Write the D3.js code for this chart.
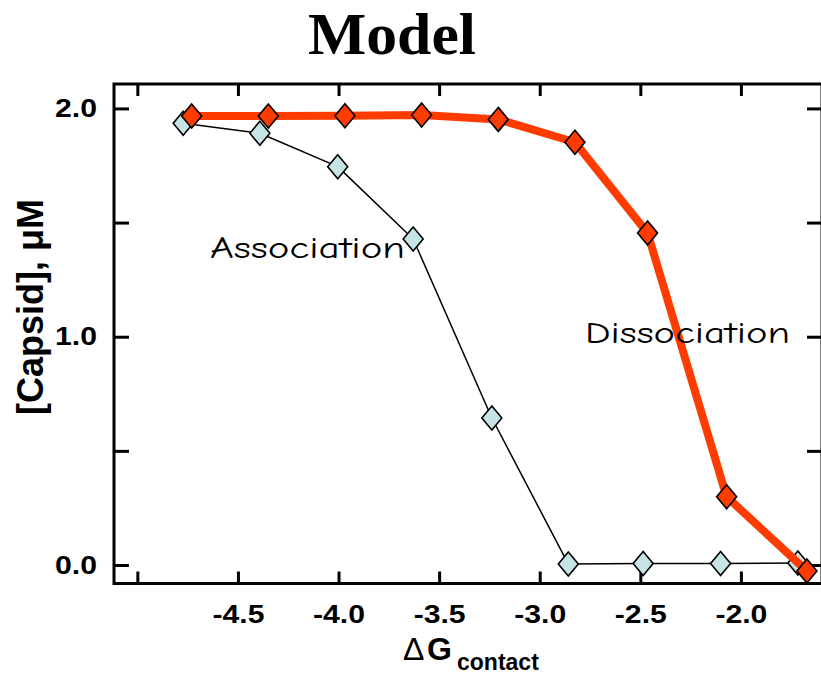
<!DOCTYPE html>
<html>
<head>
<meta charset="utf-8">
<script src="https://cdn.jsdelivr.net/npm/d3@7"></script>
<style>
  html, body { margin: 0; padding: 0; background: #fff; }
  svg { display: block; }
</style>
</head>
<body>
<script>
// Capsid concentration vs. contact free energy (model curves)
const dissocX = [-4.730, -4.349, -3.968, -3.587, -3.206, -2.825, -2.464, -2.071, -1.672];
const dissocY = [1.967, 1.967, 1.968, 1.971, 1.952, 1.852, 1.454, 0.299, -0.026];
const assocX  = [-4.772, -4.391, -4.004, -3.629, -3.238, -2.858, -2.486, -2.101, -1.717];
const assocY  = [1.935, 1.891, 1.745, 1.428, 0.644, 0.004, 0.007, 0.007, 0.009];

const xTicks = [-5.0, -4.5, -4.0, -3.5, -3.0, -2.5, -2.0];
const xTickLabels = ["", "-4.5", "-4.0", "-3.5", "-3.0", "-2.5", "-2.0"];
const yTicks = [0.0, 0.5, 1.0, 1.5, 2.0];
const yTickLabels = ["0.0", "", "1.0", "", "2.0"];

const W = 821, H = 674;
const frame = { left: 114, top: 84, right: 822, bottom: 583.5 };

const svg = d3.select("body").append("svg")
  .attr("width", W).attr("height", H);

const x = d3.scaleLinear().domain([-5.116, -1.597]).range([frame.left, frame.right]);
const y = d3.scaleLinear().domain([-0.081, 2.107]).range([frame.bottom, frame.top]);

const sans = "'Liberation Sans', Arial, Helvetica, sans-serif";

// Axes with inward ticks on all four sides
function styleAxis(g, labelWidth) {
  g.select(".domain").remove();
  g.selectAll(".tick line").attr("stroke", "#000").attr("stroke-width", 3);
  const t = g.selectAll(".tick text")
    .attr("fill", "#000")
    .style("font-family", sans)
    .style("font-weight", "bold")
    .style("font-size", "25px");
  if (labelWidth) {
    t.filter(function () { return this.textContent.length > 0; })
      .attr("textLength", labelWidth).attr("lengthAdjust", "spacingAndGlyphs");
  }
}

svg.append("g")
  .attr("transform", `translate(0,${frame.bottom})`)
  .call(d3.axisBottom(x).tickValues(xTicks)
    .tickFormat((d, i) => xTickLabels[i]).tickSizeInner(-12).tickSizeOuter(0).tickPadding(22))
  .call(g => styleAxis(g, 52));

svg.append("g")
  .attr("transform", `translate(0,${frame.top})`)
  .call(d3.axisTop(x).tickValues(xTicks).tickFormat("").tickSizeInner(-12).tickSizeOuter(0))
  .call(g => styleAxis(g));

svg.append("g")
  .attr("transform", `translate(${frame.left},0)`)
  .call(d3.axisLeft(y).tickValues(yTicks)
    .tickFormat((d, i) => yTickLabels[i]).tickSizeInner(-15).tickSizeOuter(0).tickPadding(17))
  .call(g => styleAxis(g, 42));

svg.append("g")
  .attr("transform", `translate(${frame.right},0)`)
  .call(d3.axisRight(y).tickValues(yTicks).tickFormat("").tickSizeInner(-15).tickSizeOuter(0))
  .call(g => styleAxis(g));

// Plot frame
svg.append("rect")
  .attr("x", frame.left).attr("y", frame.top)
  .attr("width", frame.right - frame.left).attr("height", frame.bottom - frame.top)
  .attr("fill", "none").attr("stroke", "#000").attr("stroke-width", 3);

// Series
const line = d3.line().x(d => x(d[0])).y(d => y(d[1]));
const diamond = "M0,-12L10,0L0,12L-10,0Z";

function drawSeries(xs, ys, lineColor, lineWidth, fill) {
  const pts = xs.map((v, i) => [v, ys[i]]);
  svg.append("path").datum(pts)
    .attr("d", line).attr("fill", "none")
    .attr("stroke", lineColor).attr("stroke-width", lineWidth)
    .attr("stroke-linejoin", "round");
  svg.append("g").selectAll("path").data(pts).join("path")
    .attr("d", diamond)
    .attr("transform", d => `translate(${x(d[0])},${y(d[1])})`)
    .attr("fill", fill).attr("stroke", "#000").attr("stroke-width", 1.6)
    .attr("stroke-linejoin", "miter");
}

drawSeries(assocX, assocY, "#000", 1.5, "#c6e4e6");
drawSeries(dissocX, dissocY, "#ff3c00", 8, "#ff3c00");

// Curve annotations
const hand = "'Comic Sans MS', 'Comic Neue', 'DejaVu Sans', sans-serif";
svg.append("text").attr("x", 210).attr("y", 258)
  .attr("textLength", 195).attr("lengthAdjust", "spacingAndGlyphs")
  .style("font-family", hand).style("font-size", "30px").attr("fill", "#000")
  .text("Association");
svg.append("text").attr("x", 585).attr("y", 343)
  .attr("textLength", 205).attr("lengthAdjust", "spacingAndGlyphs")
  .style("font-family", hand).style("font-size", "30px").attr("fill", "#000")
  .text("Dissociation");

// Title
svg.append("text").attr("x", 392).attr("y", 54).attr("text-anchor", "middle")
  .attr("textLength", 168).attr("lengthAdjust", "spacingAndGlyphs")
  .style("font-family", "'Liberation Serif', 'Times New Roman', serif")
  .style("font-weight", "bold").style("font-size", "59px")
  .text("Model");

// Axis titles
const xt = svg.append("text").attr("y", 660).style("font-family", sans).attr("fill", "#000");
xt.append("tspan").attr("x", 403).style("font-size", "32px").style("font-weight", "normal").text("Δ");
xt.append("tspan").attr("x", 427).style("font-size", "32px").style("font-weight", "bold").text("G");
xt.append("tspan").attr("x", 457).attr("dy", 10).style("font-size", "23px").style("font-weight", "bold").text("contact");

svg.append("text")
  .attr("transform", "translate(43,307) rotate(-90)")
  .attr("text-anchor", "middle")
  .style("font-family", sans).style("font-weight", "bold").style("font-size", "36px")
  .text("[Capsid], μM");
</script>
</body>
</html>
